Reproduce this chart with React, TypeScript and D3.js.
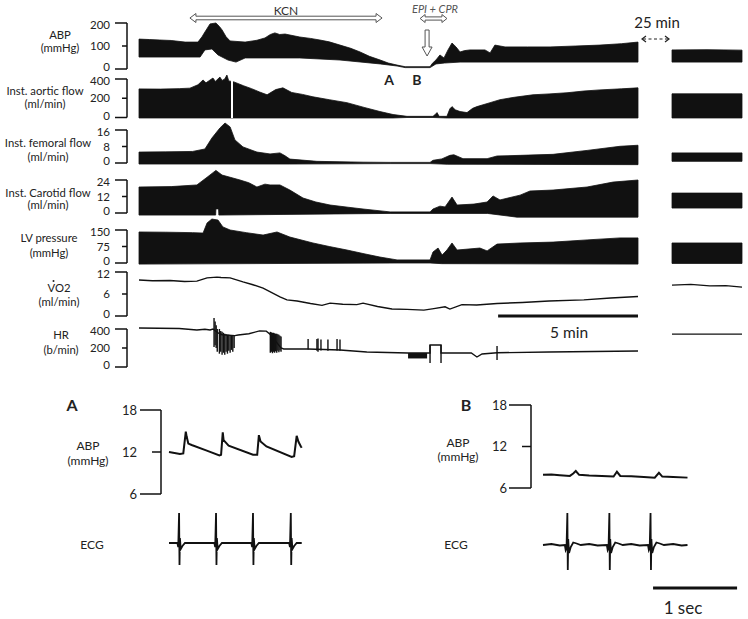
import React from 'react';
import * as d3 from 'd3';

// Top recording: time in minutes from the start of the trace, [t, value]
const abpUpper = [[0,130],[0.4,128],[0.78,126],[1.2,124],[1.72,117],[2.2,117],[2.35,140],[2.46,161],[2.65,196],[2.87,200],[3.0,185],[3.1,170],[3.25,140],[3.4,122],[3.96,117],[4.4,125],[4.7,135],[4.9,150],[5.07,157],[5.25,150],[5.45,152],[6.0,139],[6.4,133],[6.75,126],[7.1,118],[7.5,104],[7.9,90],[8.25,74],[8.6,55],[9.0,39],[9.3,26],[9.63,17],[9.93,10],[10.86,10],[10.95,25],[11.08,39],[11.23,61],[11.38,48],[11.53,83],[11.68,113],[11.83,96],[11.98,74],[12.15,80],[12.35,83],[12.91,83],[13.1,70],[13.28,104],[13.66,96],[14.5,96],[15.34,96],[16.3,100],[17.2,104],[18.0,110],[18.62,117]];
const abpLower = [[0,52],[2.28,52],[2.46,83],[2.72,87],[2.95,61],[3.32,39],[3.62,30],[3.96,48],[6.0,48],[7.5,39],[9.0,22],[9.63,13],[9.93,6],[10.86,6],[11.08,22],[11.4,26],[11.98,30],[18.62,30]];
const abpPostUpper = [[0,83],[1.3,84],[2.6,82]];
const abpPostLower = [[0,30],[2.6,30]];

const aorticUpper = [[0,297],[0.8,295],[1.5,300],[1.9,305],[2.2,340],[2.39,390],[2.5,360],[2.6,380],[2.76,410],[2.85,375],[3.02,420],[3.1,385],[3.2,400],[3.28,441],[3.35,380],[3.54,370],[3.9,330],[4.2,300],[4.5,265],[4.78,236],[5.1,290],[5.37,308],[5.7,260],[6.1,240],[6.49,215],[7.1,185],[7.76,154],[8.4,105],[8.99,62],[9.48,31],[10.0,12],[10.97,12],[11.05,30],[11.12,51],[11.2,12],[11.49,12],[11.6,90],[11.68,113],[11.8,80],[11.98,62],[12.24,51],[12.45,95],[12.61,113],[13.1,154],[13.47,185],[14.0,210],[14.7,236],[15.3,245],[15.97,257],[16.6,275],[17.2,287],[18.0,298],[18.62,308]];
const aorticLower = [[0,-5],[9.48,-5],[10.0,0],[10.97,0],[11.5,-5],[18.62,-5]];
const aorticPostUpper = [[0,246],[2.6,246]];
const aorticPostLower = [[0,-5],[2.6,-5]];
const aorticDropout = [3.47];

const femoralUpper = [[0,5.3],[1.0,5.4],[2.0,5.6],[2.46,6.8],[2.72,12.1],[3.02,17],[3.21,19.4],[3.4,17.5],[3.58,11.2],[3.88,7.8],[4.4,5.3],[4.89,4.4],[5.26,4.9],[5.45,3.5],[5.63,1.9],[6.64,0.8],[7.5,0.6],[8.36,0.4],[9.37,0.3],[10.86,0.3],[10.97,1.3],[11.3,2.0],[11.6,3.7],[11.75,4.0],[12.09,2.1],[12.99,2.1],[13.36,3.4],[14.22,3.7],[15.45,4.2],[16.72,6.1],[17.95,8.1],[18.62,8.6]];
const femoralLower = [[0,-0.5],[5.63,-0.5],[9.37,-0.3],[10.86,-0.3],[11.5,-0.6],[18.62,-0.8]];
const femoralPostUpper = [[0,4.9],[2.6,4.9]];
const femoralPostLower = [[0,0.8],[2.6,0.8]];

const carotidUpper = [[0,18.9],[1.2,19.2],[2.16,20.4],[2.54,26],[2.87,31],[3.1,27.6],[3.4,26],[3.77,24],[4.1,22],[4.4,18.9],[4.7,21],[4.89,20.4],[5.26,20.4],[5.63,16.7],[6.12,10.9],[6.6,8],[7.13,5.8],[7.8,4.2],[8.36,2.9],[9.37,0.8],[10.86,0.8],[10.97,2.9],[11.23,5],[11.42,4.4],[11.68,11.6],[11.87,5.8],[12.5,6.5],[12.99,8],[13.21,12.4],[13.47,9.5],[14.22,13],[14.59,16],[15.45,16.7],[16.72,18.9],[17.69,22.5],[18.62,24]];
const carotidLower = [[0,-1.5],[2.86,-1.5],[2.87,3],[2.97,3],[2.98,-1.5],[9.37,-0.3],[10.86,-0.3],[13.0,-0.3],[14.1,-3],[18.62,-3]];
const carotidPostUpper = [[0,14.5],[2.6,14.5]];
const carotidPostLower = [[0,3.6],[2.6,3.6]];

const lvUpper = [[0,141],[1.0,140],[2.0,138],[2.39,136],[2.54,182],[2.72,200],[2.95,195],[3.13,164],[3.4,150],[4.0,138],[4.63,127],[5.15,141],[5.63,118],[6.49,91],[7.1,75],[7.76,59],[8.4,42],[8.99,27],[9.63,14],[10.86,14],[10.97,50],[11.16,68],[11.31,36],[11.49,59],[11.68,91],[11.87,59],[12.72,68],[12.99,55],[13.36,86],[14.22,91],[15.45,95],[16.72,105],[17.95,114],[18.62,114]];
const lvLower = [[0,-5],[9.63,0],[10.86,0],[11.3,-3],[18.62,-5]];
const lvPostUpper = [[0,91],[2.6,91]];
const lvPostLower = [[0,-2],[2.6,-2]];

const vo2Line = [[0,9.8],[0.5,9.6],[1.16,9.7],[1.7,9.4],[2.16,9.5],[2.54,10.4],[2.91,10.6],[3.06,10.5],[3.4,10.4],[3.88,9.3],[4.22,8.6],[4.63,7.6],[5.26,5.2],[5.52,4.4],[5.9,4.1],[6.4,3.4],[6.83,2.9],[7.13,3.5],[7.6,3.2],[8.13,3.1],[8.36,3.5],[8.9,2.6],[9.44,1.9],[10.0,1.8],[10.63,1.6],[11.0,2.0],[11.42,2.5],[11.6,1.9],[12.05,3.1],[12.6,3.0],[13.36,3.4],[14.3,3.7],[15.3,4.1],[16.6,4.4],[17.6,4.9],[18.62,5.3]];
const vo2PostLine = [[0,8.4],[0.7,8.6],[1.4,8.2],[2.0,8.3],[2.6,7.9]];

const hrLine = [[0,410],[1.5,405],[2.16,390],[2.46,398],[2.65,390],[2.76,400],[2.95,360],[3.1,340],[3.58,330],[3.7,337],[4.1,350],[4.5,380],[4.75,378],[4.89,345],[5.3,200],[5.4,190],[6.3,190],[7.5,179],[8.5,158],[10.04,147],[10.86,147],[10.86,232],[11.27,232],[11.27,147],[12.4,147],[12.61,105],[12.8,137],[13.36,150],[15.3,158],[18.62,168]];
// [t, low, high] beat-to-beat dropouts
const hrSpikes = [[2.8,211,516],[2.84,230,480],[2.88,200,440],[2.92,160,400],[3.0,140,400],[3.05,160,380],[3.1,130,370],[3.15,150,360],[3.2,130,350],[3.25,160,345],[3.3,140,340],[3.35,170,340],[3.4,150,335],[3.45,180,335],[3.5,160,330],[3.55,200,330],[4.9,150,370],[4.94,160,365],[4.98,145,360],[5.02,160,360],[5.06,150,355],[5.1,165,350],[5.14,150,350],[5.18,170,345],[5.22,155,340],[5.26,175,330],[5.3,160,320],[6.31,185,295],[6.64,170,295],[6.68,160,300],[6.79,175,290],[7.05,170,290],[7.39,175,295],[7.5,170,290],[10.86,42,232],[11.27,42,232],[13.36,74,221]];
// [t0, t1, low, high]
const hrBlocks = [[10.04,10.75,90,147]];
const hrPostLine = [[0,347],[2.6,347]];

const abpTicks = [0,100,200];
const aorticTicks = [0,200,400];
const femoralTicks = [0,8,16];
const carotidTicks = [0,12,24];
const lvTicks = [0,75,150];
const vo2Ticks = [0,6,12];
const hrTicks = [0,200,400];

const kcnSpan = [1.9, 9.07];
const epiSpan = [10.49, 11.49];
const epiTime = 10.75;
const markA = 9.33;
const markB = 10.37;
const minuteBar = [13.4, 18.62];

// Expanded traces, time in seconds: A = during KCN, B = arrest
const abpA = [[0,12.0],[0.13,11.7],[0.17,11.8],[0.2,14.9],[0.21,14.2],[0.23,13.2],[0.27,13.0],[0.45,12.2],[0.6,11.5],[0.62,11.6],[0.64,14.8],[0.65,13.7],[0.71,12.9],[1.0,11.6],[1.05,11.6],[1.07,14.4],[1.09,13.5],[1.16,12.8],[1.46,11.3],[1.49,11.4],[1.52,14.3],[1.54,13.5],[1.57,12.8],[1.58,12.6]];
const ecgA = [[0,0],[0.10,0],[0.11,-0.4],[0.12,3.0],[0.125,-2.2],[0.13,0.5],[0.14,-0.6],[0.16,-0.3],[0.19,0],[0.54,0],[0.55,-0.4],[0.56,3.0],[0.565,-2.2],[0.57,0.5],[0.58,-0.6],[0.60,-0.3],[0.63,0],[0.98,0],[0.99,-0.4],[1.0,3.0],[1.005,-2.2],[1.01,0.5],[1.02,-0.6],[1.04,-0.3],[1.07,0],[1.43,0],[1.44,-0.4],[1.45,3.0],[1.455,-2.2],[1.46,0.5],[1.47,-0.6],[1.49,-0.3],[1.52,0],[1.58,0]];
const abpB = [[0,7.9],[0.1,7.95],[0.2,7.85],[0.32,7.75],[0.36,8.1],[0.39,8.45],[0.43,7.9],[0.55,7.8],[0.7,7.75],[0.84,7.65],[0.88,8.35],[0.92,7.75],[1.05,7.7],[1.2,7.6],[1.33,7.5],[1.38,8.2],[1.42,7.65],[1.55,7.6],[1.72,7.5]];
const ecgB = [[0,0],[0.1,0.1],[0.2,-0.05],[0.26,0],[0.27,-0.5],[0.28,-0.3],[0.29,3.2],[0.295,-2.5],[0.30,0.6],[0.31,-0.8],[0.33,-0.2],[0.36,0.25],[0.40,0.15],[0.45,0],[0.55,0.1],[0.65,-0.05],[0.76,0],[0.77,-0.5],[0.78,-0.3],[0.79,3.2],[0.795,-2.5],[0.80,0.6],[0.81,-0.8],[0.83,-0.2],[0.86,0.25],[0.90,0.15],[0.95,0],[1.05,0.1],[1.15,-0.05],[1.25,0],[1.26,-0.5],[1.27,-0.3],[1.28,3.2],[1.285,-2.5],[1.29,0.6],[1.30,-0.8],[1.32,-0.2],[1.35,0.25],[1.39,0.15],[1.44,0],[1.55,0.1],[1.65,-0.05],[1.72,0]];
const detailTicks = [6,12,18];
const secondBar = [1.31, 2.31];

const FONT = 'Lato, "Open Sans", sans-serif';
const INK = '#111';

const xMain = d3.scaleLinear().domain([0, 18.62]).range([139, 638]);
const xPost = d3.scaleLinear().domain([0, 2.6]).range([672, 742]);
const line = d3.line();

const band = (upper, lower, x, y) =>
  line(upper.map(d => [x(d[0]), y(d[1])]).concat(lower.slice().reverse().map(d => [x(d[0]), y(d[1])]))) + 'Z';
const trace = (pts, x, y) => line(pts.map(d => [x(d[0]), y(d[1])]));

// hollow double-headed arrow
const doubleArrow = (x1, x2, y, shaft, head, len) =>
  `M${x1},${y}L${x1 + len},${y - head}L${x1 + len},${y - shaft}L${x2 - len},${y - shaft}L${x2 - len},${y - head}L${x2},${y}` +
  `L${x2 - len},${y + head}L${x2 - len},${y + shaft}L${x1 + len},${y + shaft}L${x1 + len},${y + head}Z`;

// bracket axis; nudge keeps stacked end labels from touching
const Bracket = ({ y, ticks, x, longLen, shortLen, labelX, size, nudge = 0 }) => {
  const [lo, mid, hi] = ticks;
  const shift = t => (t === hi ? nudge : t === lo ? -nudge : 0);
  return (
    <g stroke={INK} strokeWidth={1.5} fill="none">
      <line x1={x} x2={x} y1={y(hi)} y2={y(lo)} />
      <line x1={x - longLen} x2={x} y1={y(hi)} y2={y(hi)} />
      <line x1={x - longLen} x2={x} y1={y(lo)} y2={y(lo)} />
      <line x1={x - shortLen} x2={x} y1={y(mid)} y2={y(mid)} />
      {ticks.map(t => (
        <text key={t} x={labelX} y={y(t) + shift(t)} dy="0.35em" textAnchor="end" stroke="none" fill="#222"
          fontSize={size} fontFamily={FONT}>{t}</text>
      ))}
    </g>
  );
};

const Label = ({ x, lines, ys, size = 11.3 }) => (
  <g fill="#222" fontSize={size} fontFamily={FONT} textAnchor="middle">
    {lines.map((s, i) => <text key={i} x={x} y={ys[i]} dy="0.35em">{s}</text>)}
  </g>
);

const bandTracks = [
  { name: 'abp', up: abpUpper, lo: abpLower, pu: abpPostUpper, pl: abpPostLower, ticks: abpTicks, range: [69, 23], label: ['ABP', '(mmHg)'], lx: 60, ly: [35, 48] },
  { name: 'aortic', up: aorticUpper, lo: aorticLower, pu: aorticPostUpper, pl: aorticPostLower, ticks: aorticTicks, range: [117.5, 79], label: ['Inst. aortic flow', '(ml/min)'], lx: 45, ly: [91, 104] },
  { name: 'femoral', up: femoralUpper, lo: femoralLower, pu: femoralPostUpper, pl: femoralPostLower, ticks: femoralTicks, range: [163, 130], label: ['Inst. femoral flow', '(ml/min)'], lx: 48, ly: [143, 157] },
  { name: 'carotid', up: carotidUpper, lo: carotidLower, pu: carotidPostUpper, pl: carotidPostLower, ticks: carotidTicks, range: [213, 180], label: ['Inst. Carotid flow', '(ml/min)'], lx: 48, ly: [193, 205] },
  { name: 'lv', up: lvUpper, lo: lvLower, pu: lvPostUpper, pl: lvPostLower, ticks: lvTicks, range: [263, 230], label: ['LV pressure', '(mmHg)'], lx: 49, ly: [238, 253] },
];

const yVo2 = d3.scaleLinear().domain([0, 12]).range([316, 272]);
const yHr = d3.scaleLinear().domain([0, 400]).range([367, 329]);

const xA = d3.scaleLinear().domain([0, 1.6]).range([169, 303.4]);
const yAbpA = d3.scaleLinear().domain([6, 18]).range([494, 410]);
const yEcgA = d3.scaleLinear().domain([-2.5, 3.5]).range([568, 508]);
const xB = d3.scaleLinear().domain([0, 1.72]).range([543, 687.5]);
const yAbpB = d3.scaleLinear().domain([6, 18]).range([488, 405]);
const yEcgB = d3.scaleLinear().domain([-2.5, 3.5]).range([570, 510]);

export default function App() {
  return (
    <svg width={748} height={619} style={{ position: 'absolute', left: 0, top: 0, background: '#fff' }}>
      <rect width={748} height={619} fill="#fff" />

      {bandTracks.map(tr => {
        const y = d3.scaleLinear().domain([tr.ticks[0], tr.ticks[2]]).range(tr.range);
        return (
          <g key={tr.name}>
            <path d={band(tr.up, tr.lo, xMain, y)} fill={INK} stroke={INK} strokeWidth={0.8} />
            <path d={band(tr.pu, tr.pl, xPost, y)} fill={INK} stroke={INK} strokeWidth={0.8} />
            <Bracket y={y} ticks={tr.ticks} x={127} longLen={12} shortLen={5} labelX={110} size={11.5} nudge={2} />
            <Label x={tr.lx} lines={tr.label} ys={tr.ly} />
          </g>
        );
      })}
      {aorticDropout.map(t => (
        <line key={t} x1={xMain(t)} x2={xMain(t)} y1={78} y2={118} stroke="#fff" strokeWidth={2} />
      ))}

      {/* VO2 */}
      <path d={trace(vo2Line, xMain, yVo2)} fill="none" stroke={INK} strokeWidth={1.4} />
      <path d={trace(vo2PostLine, xPost, yVo2)} fill="none" stroke={INK} strokeWidth={1.3} />
      <Bracket y={yVo2} ticks={vo2Ticks} x={127} longLen={12} shortLen={5} labelX={110} size={11.5} nudge={2} />
      <Label x={59} lines={['VO2', '(ml/min)']} ys={[288, 302]} />
      <circle cx={53.5} cy={281} r={1} fill="#222" />

      {/* HR */}
      <path d={trace(hrLine, xMain, yHr)} fill="none" stroke={INK} strokeWidth={1.4} />
      {hrSpikes.map((d, i) => (
        <line key={i} x1={xMain(d[0])} x2={xMain(d[0])} y1={yHr(d[1])} y2={yHr(d[2])} stroke={INK} strokeWidth={1.4} />
      ))}
      {hrBlocks.map((d, i) => (
        <rect key={i} x={xMain(d[0])} width={xMain(d[1]) - xMain(d[0])} y={yHr(d[3])} height={yHr(d[2]) - yHr(d[3])} fill={INK} />
      ))}
      <path d={trace(hrPostLine, xPost, yHr)} fill="none" stroke={INK} strokeWidth={1.3} />
      <Bracket y={yHr} ticks={hrTicks} x={127} longLen={12} shortLen={5} labelX={110} size={11.5} nudge={2} />
      <Label x={61} lines={['HR', '(b/min)']} ys={[335, 350]} />

      {/* annotations */}
      <path d={doubleArrow(xMain(kcnSpan[0]), xMain(kcnSpan[1]), 18, 1.8, 4.5, 6)} fill="#fff" stroke="#555" strokeWidth={1} />
      <text x={(xMain(kcnSpan[0]) + xMain(kcnSpan[1])) / 2} y={11} dy="0.35em" textAnchor="middle" fontSize={12} fontFamily={FONT} fill="#333">KCN</text>
      <path d={doubleArrow(xMain(epiSpan[0]), xMain(epiSpan[1]), 18.5, 1.6, 4, 5)} fill="#fff" stroke="#555" strokeWidth={1} />
      <text x={435} y={9} dy="0.35em" textAnchor="middle" fontSize={11} fontStyle="italic" fontFamily={FONT} fill="#555">EPI + CPR</text>
      <path d={`M${xMain(epiTime) - 2},30L${xMain(epiTime) + 2},30L${xMain(epiTime) + 2},47L${xMain(epiTime) + 5},47L${xMain(epiTime)},56L${xMain(epiTime) - 5},47L${xMain(epiTime) - 2},47Z`} fill="#fff" stroke="#555" strokeWidth={1} />
      <text x={xMain(markA)} y={80} dy="0.35em" textAnchor="middle" fontSize={14} fontWeight="bold" fontFamily={FONT} fill="#222">A</text>
      <text x={xMain(markB)} y={80} dy="0.35em" textAnchor="middle" fontSize={14} fontWeight="bold" fontFamily={FONT} fill="#222">B</text>
      <text x={657} y={23} dy="0.35em" textAnchor="middle" fontSize={15} fontFamily={FONT} fill="#222">25 min</text>
      <line x1={643} x2={668} y1={39} y2={39} stroke="#222" strokeWidth={1.2} strokeDasharray="3,2.5" />
      <path d="M646,36L642,39L646,42M665,36L669,39L665,42" fill="none" stroke="#222" strokeWidth={1.2} />
      <line x1={xMain(minuteBar[0])} x2={xMain(minuteBar[1])} y1={316} y2={316} stroke={INK} strokeWidth={3} />
      <text x={569} y={333} dy="0.35em" textAnchor="middle" fontSize={15.5} fontFamily={FONT} fill="#222">5 min</text>

      {/* detail A */}
      <text x={72} y={405} dy="0.35em" textAnchor="middle" fontSize={16} fontWeight="bold" fontFamily={FONT} fill="#222">A</text>
      <Label x={88} lines={['ABP', '(mmHg)']} ys={[446, 461]} size={12} />
      <Label x={92} lines={['ECG']} ys={[545]} size={12} />
      <Bracket y={yAbpA} ticks={detailTicks} x={161} longLen={21} shortLen={9} labelX={137} size={13} />
      <path d={trace(abpA, xA, yAbpA)} fill="none" stroke={INK} strokeWidth={2} />
      <path d={trace(ecgA, xA, yEcgA)} fill="none" stroke={INK} strokeWidth={1.8} />

      {/* detail B */}
      <text x={466} y={405} dy="0.35em" textAnchor="middle" fontSize={16} fontWeight="bold" fontFamily={FONT} fill="#222">B</text>
      <Label x={458} lines={['ABP', '(mmHg)']} ys={[443, 457]} size={12} />
      <Label x={456} lines={['ECG']} ys={[545]} size={12} />
      <Bracket y={yAbpB} ticks={detailTicks} x={531} longLen={22} shortLen={9} labelX={507} size={13} />
      <path d={trace(abpB, xB, yAbpB)} fill="none" stroke={INK} strokeWidth={2} />
      <path d={trace(ecgB, xB, yEcgB)} fill="none" stroke={INK} strokeWidth={1.8} />
      <line x1={xB(secondBar[0])} x2={xB(secondBar[1])} y1={588} y2={588} stroke={INK} strokeWidth={3} />
      <text x={683} y={608} dy="0.35em" textAnchor="middle" fontSize={17} fontFamily={FONT} fill="#222">1 sec</text>
    </svg>
  );
}
